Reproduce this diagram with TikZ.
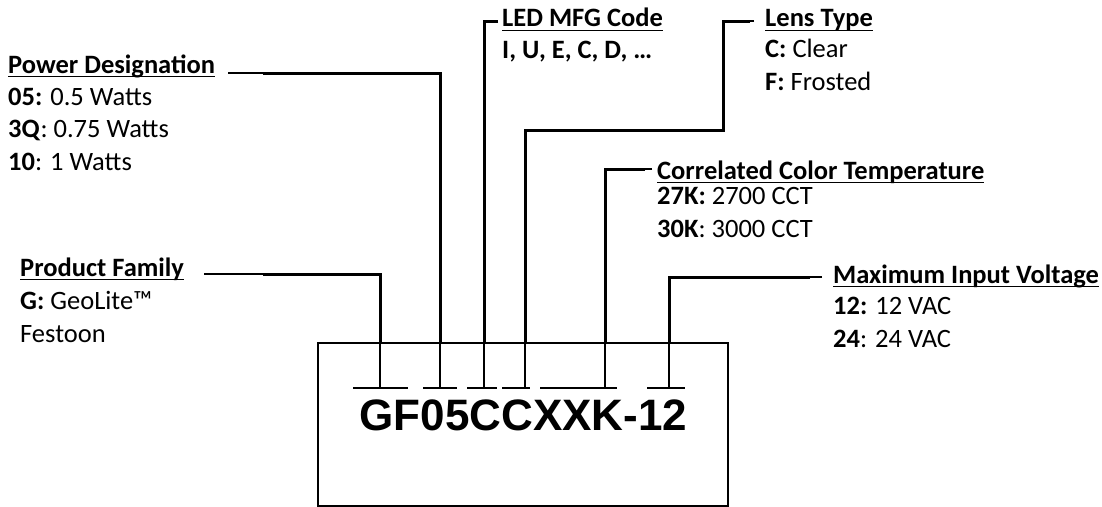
\documentclass[tikz,border=0pt]{standalone}
\usepackage{fontspec}
\setmainfont{Carlito}
\newfontfamily\codefont{Liberation Sans}
\usetikzlibrary{positioning}

% underlined heading, rule crossing the descenders
\newcommand\hdr[1]{\setbox0\hbox{\bfseries #1}\rlap{\rule[-4.4pt]{\wd0}{1.7pt}}\box0}

\begin{document}
\begin{tikzpicture}[
	x=1pt, y=-1pt,
	lbl/.style={font=\fontsize{26.5}{32.5}\selectfont, inner sep=0pt, anchor=base west, align=left},
	lead/.style={line width=3pt},
	leadthin/.style={line width=1.4pt},
	inlead/.style={line width=2pt},
	tick/.style={line width=2.6pt}
]
\useasboundingbox (0,0) rectangle (1102,506);

% part number frame
\node[draw, line width=2pt, minimum width=410pt, minimum height=163pt, inner sep=0pt, anchor=north west] (frame) at (317,342) {};
\node[font=\codefont\bfseries\fontsize{44}{44}\selectfont, inner sep=0pt, anchor=base] (code) at (523.5,430) {GF05CCXXK-12};

\foreach \a/\b in {353/408, 423/457, 467/497, 502/530, 540/617, 647/685}
	\draw[tick] (\a,388) -- (\b,388);

\coordinate (tfam) at (380,388);
\coordinate (tpwr) at (440,388);
\coordinate (tled) at (484,388);
\coordinate (tlens) at (525,388);
\coordinate (tcct) at (605,388);
\coordinate (tvolt) at (669,388);

% labels (base of a text block = its last line)
\node[lbl] (pwr) at (8,73) {\hdr{Power Designation}};
\node[lbl] (pwrtxt) at ([yshift=-97pt]pwr.base west) {\textbf{05:} 0.5 Watts\\\textbf{3Q}: 0.75 Watts\\\textbf{10}: 1 Watts};

\node[lbl] (fam) at (20,276) {\hdr{Product Family}};
\node[lbl] (famtxt) at ([yshift=-66pt]fam.base west) {\textbf{G:} GeoLite\texttrademark\\Festoon};

\node[lbl] (led) at (502,27) {\hdr{LED MFG Code}};
\node[lbl] (ledtxt) at ([yshift=-31pt]led.base west) {\textbf{I, U, E, C, D, \ldots}};

\node[lbl] (lens) at (765,27) {\hdr{Lens Type}};
\node[lbl] (lenstxt) at ([yshift=-63pt]lens.base west) {\textbf{C:} Clear\\\textbf{F:} Frosted};

\node[lbl] (cct) at (657,179) {\hdr{Correlated Color Temperature}};
\node[lbl] (ccttxt) at ([yshift=-58pt]cct.base west) {\textbf{27K:} 2700 CCT\\\textbf{30K}: 3000 CCT};

\node[lbl] (volt) at (833,283) {\hdr{Maximum Input Voltage}};
\node[lbl] (volttxt) at ([yshift=-64pt]volt.base west) {\textbf{12:} 12 VAC\\\textbf{24}: 24 VAC};

% leaders
\draw[leadthin] ([xshift=13pt]pwr.base east) -- (263,73);
\draw[lead] (263,73) -| (tpwr |- frame.north);
\draw[inlead] (tpwr |- frame.north) -- (tpwr);

\draw[leadthin] ([xshift=20pt,yshift=2pt]fam.base east) -- (263,274);
\draw[lead] (263,274) -| (tfam |- frame.north);
\draw[inlead] (tfam |- frame.north) -- (tfam);

\draw[lead] ([xshift=-4pt,yshift=6pt]led.base west) -| (tled |- frame.north);
\draw[inlead] (tled |- frame.north) -- (tled);

\draw[leadthin] ([xshift=-11pt,yshift=6pt]lens.base west) -- (750,21);
\draw[lead] (750,21) -| (723,130) -| (tlens |- frame.north);
\draw[inlead] (tlens |- frame.north) -- (tlens);

\draw[leadthin] ([xshift=-5pt,yshift=10pt]cct.base west) -- (645,169);
\draw[lead] (645,169) -| (tcct |- frame.north);
\draw[inlead] (tcct |- frame.north) -- (tcct);

\draw[leadthin] ([xshift=-11pt,yshift=6pt]volt.base west) -- (810,277);
\draw[lead] (810,277) -| (tvolt |- frame.north);
\draw[inlead] (tvolt |- frame.north) -- (tvolt);
\end{tikzpicture}
\end{document}
